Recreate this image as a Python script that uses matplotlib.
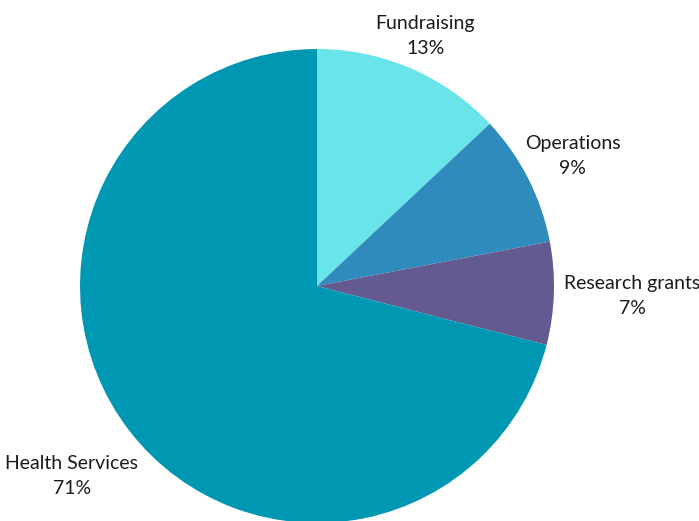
import numpy as np
import matplotlib.pyplot as plt

labels = ["Fundraising", "Operations", "Research grants", "Health Services"]
values = [13, 9, 7, 71]
colors = ["#69E4E9", "#2E8BBB", "#635A92", "#0097B2"]
label_dist = [1.15, 1.21, 1.33, 1.31]

plt.rcParams["font.family"] = ["Lato", "DejaVu Sans"]

fig = plt.figure(figsize=(6.99, 5.21), dpi=100)
ax = fig.add_axes([0, 0, 1, 1])

wedges, texts = ax.pie(values, colors=colors, startangle=90, counterclock=False,
                       radius=1.0, center=(0, 0),
                       labels=[f"{l}\n{v}%" for l, v in zip(labels, values)],
                       labeldistance=1.2,
                       textprops=dict(fontsize=14, color="#1a1a1a", ha="center",
                                      va="center", linespacing=1.6))

for w, t, d in zip(wedges, texts, label_dist):
    ang = np.deg2rad((w.theta1 + w.theta2) / 2)
    t.set_position((d * np.cos(ang), d * np.sin(ang)))
    t.set_ha("center")

ax.set_xlim(-317 / 237, (699 - 317) / 237)
ax.set_ylim((286 - 521) / 237, 286 / 237)
ax.set_aspect("equal")
ax.axis("off")

fig.savefig("out.png", dpi=100)
